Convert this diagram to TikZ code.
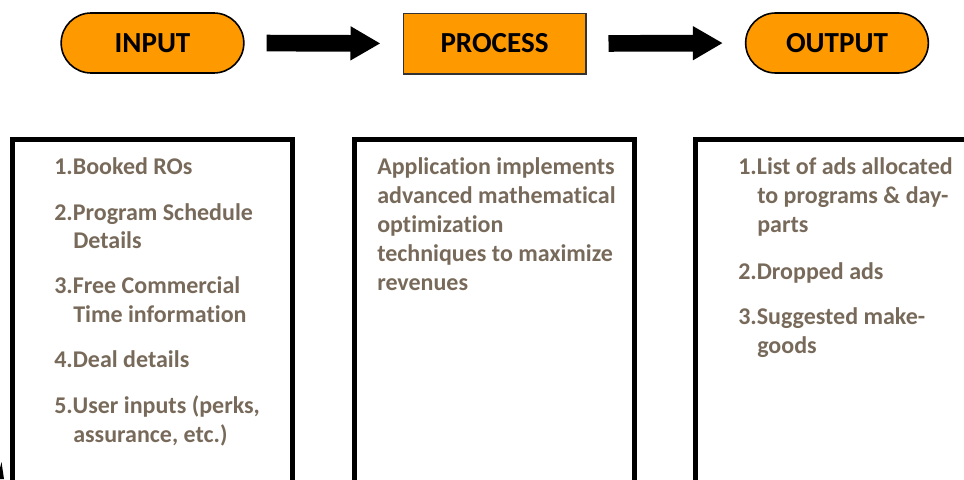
\documentclass[tikz,border=0pt]{standalone}
\usepackage{fontspec}
\setmainfont{Carlito}[Ligatures={NoCommon}]
\usetikzlibrary{arrows.meta}
\definecolor{orangefill}{RGB}{255,153,0}
\definecolor{txtbrown}{RGB}{120,106,90}
\tikzset{
  pill/.style={draw=black, line width=1.2pt, fill=orangefill, rounded corners=22.5pt,
    minimum width=137pt, minimum height=45pt, inner sep=0pt,
    font=\fontsize{21.8}{26}\selectfont\bfseries},
  procbox/.style={draw=black!80, line width=1pt, fill=orangefill,
    minimum width=137pt, minimum height=45.5pt, inner sep=0pt,
    font=\fontsize{21.8}{26}\selectfont\bfseries},
  bigarrow/.style={line width=12.5pt, -{Triangle[length=22.5pt, width=24pt]},
    shorten <=16.5pt, shorten >=16.5pt},
  panel/.style={draw=black, line width=3.75pt, inner sep=0pt},
  itemtxt/.style={anchor=base west, inner sep=0pt, text=txtbrown,
    font=\fontsize{18}{22}\selectfont\bfseries},
}
\begin{document}
\begin{tikzpicture}[x=0.75pt, y=-0.75pt]
\useasboundingbox (0,0) rectangle (964,479);
\clip (0,0) rectangle (964,479);
% top row
\node[pill] (input) at (152.5,43) {INPUT};
\node[procbox] (process) at (494.5,43.5) {PROCESS};
\node[pill] (output) at (837,43) {OUTPUT};
\draw[bigarrow] (input.east) -- (process.west);
\draw[bigarrow] (process.east) -- (output.west);
% panels
\node[panel, minimum width=210pt, minimum height=270pt] (inpanel) at (152.5,319.5) {};
\node[panel, minimum width=210pt, minimum height=270pt] (procpanel) at (494.5,319.5) {};
\node[panel, minimum width=228pt, minimum height=270pt] (outpanel) at (847.5,319.5) {};
% input texts
\node[itemtxt] (i1) at (54,174) {1.Booked ROs};
\node[itemtxt] (i2) at (54,220) {2.Program Schedule};
\node[itemtxt] (i2b) at (73,248) {Details};
\node[itemtxt] (i3) at (54,293) {3.Free Commercial};
\node[itemtxt] (i3b) at (73,322) {Time information};
\node[itemtxt] (i4) at (54,367) {4.Deal details};
\node[itemtxt] (i5) at (54,413) {5.User inputs (perks,};
\node[itemtxt] (i5b) at (73,442) {assurance, etc.)};
% process texts
\node[itemtxt] (p1) at (377,174) {Application implements};
\node[itemtxt] (p2) at (377,203) {advanced mathematical};
\node[itemtxt] (p3) at (377,232) {optimization};
\node[itemtxt] (p4) at (377,261) {techniques to maximize};
\node[itemtxt] (p5) at (377,290) {revenues};
% output texts
\node[itemtxt] (o1) at (738,174) {1.List of ads allocated};
\node[itemtxt] (o1b) at (757,203) {to programs \& day-};
\node[itemtxt] (o1c) at (757,232) {parts};
\node[itemtxt] (o2) at (738,279) {2.Dropped ads};
\node[itemtxt] (o3) at (738,324) {3.Suggested make-};
\node[itemtxt] (o3b) at (757,353) {goods};
% small fragment at bottom-left corner
\fill[black] (0,479) -- (0,468) -- (1.5,462) -- (4,479) -- cycle;
\end{tikzpicture}
\end{document}
